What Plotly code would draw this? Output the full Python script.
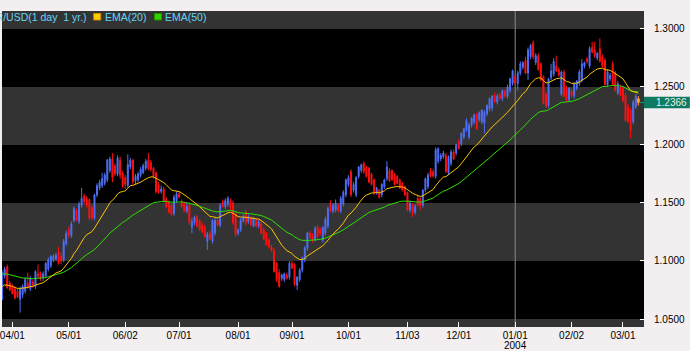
import plotly.graph_objects as go
import pandas as pd

# ---------------- data ----------------
# trading days shown: 2003-03-26 .. 2004-03-09 (weekdays, no bar on 2003-12-25)
dates = [d.strftime("%Y-%m-%d") for d in pd.bdate_range("2003-03-26", "2004-03-09")
         if d.strftime("%Y-%m-%d") != "2003-12-25"]

opens = [
    1.067, 1.087, 1.095, 1.081, 1.078, 1.076, 1.074, 1.067, 1.071, 1.074,
    1.081, 1.076, 1.082, 1.078, 1.089, 1.089, 1.086, 1.087, 1.093, 1.096,
    1.101, 1.102, 1.108, 1.104, 1.101, 1.115, 1.127, 1.122, 1.135, 1.143,
    1.134, 1.148, 1.156, 1.154, 1.153, 1.146, 1.137, 1.157, 1.163, 1.165,
    1.167, 1.170, 1.178, 1.188, 1.182, 1.175, 1.187, 1.176, 1.172, 1.165,
    1.181, 1.187, 1.169, 1.170, 1.174, 1.176, 1.180, 1.187, 1.185, 1.180,
    1.176, 1.166, 1.160, 1.162, 1.153, 1.151, 1.148, 1.141, 1.152, 1.158,
    1.151, 1.149, 1.143, 1.148, 1.129, 1.133, 1.138, 1.135, 1.131, 1.129,
    1.117, 1.124, 1.117, 1.124, 1.135, 1.131, 1.151, 1.147, 1.149, 1.152,
    1.150, 1.141, 1.124, 1.127, 1.135, 1.142, 1.134, 1.137, 1.130, 1.135,
    1.130, 1.132, 1.127, 1.124, 1.118, 1.112, 1.109, 1.098, 1.090, 1.085,
    1.084, 1.088, 1.086, 1.098, 1.097, 1.079, 1.084, 1.092, 1.101, 1.111,
    1.124, 1.122, 1.119, 1.129, 1.127, 1.118, 1.124, 1.130, 1.150, 1.143,
    1.144, 1.148, 1.143, 1.149, 1.157, 1.166, 1.177, 1.161, 1.157, 1.173,
    1.178, 1.184, 1.181, 1.180, 1.175, 1.170, 1.159, 1.161, 1.157, 1.164,
    1.171, 1.178, 1.178, 1.175, 1.173, 1.170, 1.167, 1.164, 1.159, 1.144,
    1.149, 1.142, 1.154, 1.153, 1.148, 1.161, 1.164, 1.178, 1.177, 1.173,
    1.186, 1.188, 1.190, 1.191, 1.176, 1.184, 1.194, 1.193, 1.203, 1.201,
    1.207, 1.213, 1.207, 1.217, 1.220, 1.226, 1.222, 1.220, 1.219, 1.227,
    1.231, 1.232, 1.243, 1.237, 1.243, 1.240, 1.246, 1.242, 1.247, 1.253,
    1.259, 1.253, 1.262, 1.267, 1.273, 1.262, 1.276, 1.288, 1.271, 1.277,
    1.270, 1.259, 1.244, 1.234, 1.258, 1.261, 1.268, 1.265, 1.244, 1.263,
    1.249, 1.239, 1.246, 1.242, 1.249, 1.253, 1.256, 1.268, 1.274, 1.268,
    1.284, 1.282, 1.275, 1.283, 1.276, 1.273, 1.252, 1.257, 1.270, 1.262,
    1.245, 1.250, 1.249, 1.243, 1.233, 1.230, 1.220, 1.233, 1.240,
]
highs = [
    1.092, 1.095, 1.097, 1.083, 1.080, 1.078, 1.076, 1.078, 1.080, 1.086,
    1.090, 1.087, 1.084, 1.092, 1.097, 1.091, 1.091, 1.099, 1.103, 1.105,
    1.106, 1.107, 1.112, 1.108, 1.119, 1.126, 1.130, 1.134, 1.147, 1.145,
    1.151, 1.163, 1.158, 1.156, 1.154, 1.148, 1.158, 1.167, 1.170, 1.176,
    1.176, 1.188, 1.190, 1.193, 1.184, 1.191, 1.190, 1.178, 1.174, 1.192,
    1.189, 1.188, 1.175, 1.177, 1.181, 1.184, 1.188, 1.193, 1.187, 1.181,
    1.177, 1.168, 1.165, 1.164, 1.155, 1.152, 1.150, 1.157, 1.160, 1.160,
    1.153, 1.151, 1.150, 1.150, 1.137, 1.139, 1.140, 1.136, 1.133, 1.131,
    1.125, 1.126, 1.136, 1.137, 1.137, 1.150, 1.153, 1.154, 1.156, 1.154,
    1.152, 1.142, 1.128, 1.137, 1.140, 1.144, 1.140, 1.139, 1.138, 1.137,
    1.135, 1.134, 1.129, 1.125, 1.120, 1.114, 1.111, 1.099, 1.093, 1.089,
    1.090, 1.090, 1.100, 1.100, 1.098, 1.087, 1.094, 1.104, 1.113, 1.125,
    1.126, 1.124, 1.130, 1.131, 1.129, 1.130, 1.138, 1.147, 1.152, 1.150,
    1.153, 1.150, 1.156, 1.161, 1.171, 1.174, 1.179, 1.168, 1.173, 1.182,
    1.184, 1.186, 1.182, 1.181, 1.176, 1.171, 1.164, 1.162, 1.167, 1.171,
    1.186, 1.180, 1.179, 1.176, 1.174, 1.171, 1.168, 1.165, 1.160, 1.152,
    1.150, 1.149, 1.156, 1.155, 1.162, 1.172, 1.176, 1.180, 1.179, 1.198,
    1.198, 1.193, 1.195, 1.193, 1.191, 1.196, 1.196, 1.201, 1.205, 1.211,
    1.215, 1.223, 1.219, 1.224, 1.227, 1.228, 1.229, 1.231, 1.230, 1.235,
    1.241, 1.243, 1.245, 1.244, 1.245, 1.248, 1.248, 1.252, 1.258, 1.265,
    1.261, 1.264, 1.272, 1.272, 1.276, 1.284, 1.287, 1.290, 1.279, 1.279,
    1.271, 1.260, 1.245, 1.258, 1.270, 1.275, 1.277, 1.267, 1.264, 1.265,
    1.251, 1.250, 1.248, 1.254, 1.256, 1.265, 1.274, 1.272, 1.276, 1.285,
    1.289, 1.289, 1.280, 1.292, 1.278, 1.275, 1.265, 1.262, 1.272, 1.264,
    1.255, 1.252, 1.251, 1.245, 1.235, 1.232, 1.239, 1.244, 1.242,
]
lows = [
    1.066, 1.085, 1.076, 1.074, 1.071, 1.067, 1.068, 1.0555, 1.068, 1.072,
    1.076, 1.074, 1.077, 1.076, 1.085, 1.083, 1.083, 1.085, 1.091, 1.094,
    1.099, 1.100, 1.097, 1.097, 1.099, 1.113, 1.120, 1.120, 1.133, 1.134,
    1.132, 1.146, 1.149, 1.146, 1.135, 1.135, 1.135, 1.155, 1.161, 1.163,
    1.165, 1.168, 1.176, 1.168, 1.173, 1.173, 1.171, 1.163, 1.162, 1.163,
    1.179, 1.166, 1.166, 1.168, 1.172, 1.175, 1.178, 1.178, 1.177, 1.171,
    1.158, 1.158, 1.158, 1.150, 1.146, 1.141, 1.139, 1.139, 1.150, 1.154,
    1.146, 1.142, 1.141, 1.131, 1.124, 1.131, 1.129, 1.126, 1.124, 1.120,
    1.1095, 1.118, 1.115, 1.122, 1.130, 1.129, 1.146, 1.145, 1.147, 1.144,
    1.131, 1.121, 1.122, 1.125, 1.133, 1.131, 1.132, 1.130, 1.129, 1.129,
    1.128, 1.123, 1.118, 1.113, 1.111, 1.108, 1.090, 1.082, 1.077, 1.083,
    1.082, 1.084, 1.084, 1.093, 1.078, 1.075, 1.082, 1.090, 1.099, 1.109,
    1.119, 1.116, 1.117, 1.119, 1.122, 1.116, 1.122, 1.128, 1.142, 1.141,
    1.142, 1.142, 1.141, 1.147, 1.155, 1.164, 1.155, 1.159, 1.155, 1.171,
    1.176, 1.175, 1.172, 1.167, 1.165, 1.157, 1.157, 1.154, 1.155, 1.162,
    1.169, 1.168, 1.169, 1.165, 1.166, 1.162, 1.160, 1.156, 1.143, 1.142,
    1.138, 1.140, 1.147, 1.144, 1.146, 1.159, 1.162, 1.172, 1.172, 1.171,
    1.184, 1.186, 1.188, 1.176, 1.174, 1.182, 1.187, 1.191, 1.196, 1.199,
    1.205, 1.211, 1.205, 1.215, 1.218, 1.213, 1.220, 1.218, 1.210, 1.225,
    1.229, 1.229, 1.236, 1.235, 1.239, 1.238, 1.241, 1.240, 1.245, 1.251,
    1.252, 1.247, 1.260, 1.265, 1.261, 1.256, 1.274, 1.274, 1.269, 1.264,
    1.255, 1.235, 1.232, 1.232, 1.256, 1.259, 1.263, 1.259, 1.242, 1.241,
    1.238, 1.237, 1.241, 1.240, 1.247, 1.251, 1.254, 1.266, 1.270, 1.266,
    1.279, 1.275, 1.273, 1.271, 1.267, 1.251, 1.250, 1.255, 1.251, 1.246,
    1.243, 1.242, 1.237, 1.220, 1.219, 1.206, 1.218, 1.231, 1.234,
]
closes = [
    1.090, 1.093, 1.077, 1.075, 1.072, 1.068, 1.069, 1.076, 1.078, 1.084,
    1.077, 1.085, 1.079, 1.091, 1.087, 1.085, 1.089, 1.098, 1.101, 1.104,
    1.104, 1.105, 1.098, 1.100, 1.117, 1.124, 1.122, 1.132, 1.145, 1.135,
    1.149, 1.154, 1.151, 1.148, 1.137, 1.137, 1.157, 1.165, 1.168, 1.171,
    1.174, 1.187, 1.188, 1.172, 1.175, 1.189, 1.174, 1.165, 1.166, 1.183,
    1.187, 1.168, 1.173, 1.175, 1.179, 1.182, 1.186, 1.180, 1.179, 1.173,
    1.160, 1.159, 1.162, 1.151, 1.147, 1.142, 1.140, 1.155, 1.158, 1.155,
    1.147, 1.143, 1.147, 1.133, 1.134, 1.138, 1.130, 1.127, 1.125, 1.121,
    1.123, 1.119, 1.135, 1.135, 1.131, 1.148, 1.147, 1.152, 1.154, 1.146,
    1.133, 1.123, 1.127, 1.135, 1.138, 1.133, 1.138, 1.131, 1.137, 1.130,
    1.134, 1.124, 1.119, 1.114, 1.112, 1.109, 1.091, 1.084, 1.078, 1.088,
    1.089, 1.085, 1.098, 1.094, 1.080, 1.086, 1.092, 1.102, 1.111, 1.124,
    1.120, 1.118, 1.128, 1.121, 1.124, 1.129, 1.136, 1.145, 1.143, 1.148,
    1.150, 1.143, 1.154, 1.159, 1.170, 1.172, 1.157, 1.166, 1.172, 1.181,
    1.183, 1.177, 1.173, 1.168, 1.166, 1.159, 1.163, 1.155, 1.166, 1.170,
    1.181, 1.169, 1.170, 1.166, 1.167, 1.163, 1.161, 1.157, 1.144, 1.150,
    1.141, 1.147, 1.148, 1.148, 1.161, 1.171, 1.174, 1.173, 1.173, 1.196,
    1.197, 1.191, 1.193, 1.177, 1.190, 1.194, 1.188, 1.200, 1.197, 1.210,
    1.214, 1.221, 1.217, 1.223, 1.226, 1.214, 1.228, 1.230, 1.228, 1.234,
    1.240, 1.242, 1.237, 1.242, 1.240, 1.247, 1.242, 1.250, 1.257, 1.264,
    1.253, 1.262, 1.270, 1.271, 1.262, 1.282, 1.286, 1.276, 1.277, 1.265,
    1.256, 1.236, 1.233, 1.257, 1.264, 1.272, 1.264, 1.260, 1.263, 1.242,
    1.239, 1.249, 1.243, 1.253, 1.255, 1.263, 1.270, 1.271, 1.272, 1.283,
    1.280, 1.277, 1.279, 1.272, 1.268, 1.252, 1.263, 1.260, 1.252, 1.247,
    1.253, 1.243, 1.238, 1.221, 1.220, 1.213, 1.237, 1.242, 1.2366,
]

# EMA values at the first visible bar
ema20_start = 1.078
ema50_start = 1.089

tick_dates = ["2003-04-01", "2003-05-01", "2003-06-02", "2003-07-01", "2003-08-01",
              "2003-09-01", "2003-10-01", "2003-11-03", "2003-12-01", "2004-01-01",
              "2004-02-02", "2004-03-01"]
tick_labels = ["04/01", "05/01", "06/02", "07/01", "08/01", "09/01", "10/01",
               "11/03", "12/01", "01/01", "02/02", "03/01"]
y_ticks = [1.05, 1.10, 1.15, 1.20, 1.25, 1.30]
y_labels = ["1.0500", "1.1000", "1.1500", "1.2000", "1.2500", "1.3000"]
band_edges = [(1.30, 1.3155), (1.20, 1.25), (1.10, 1.15), (1.0431, 1.05)]
last_price = 1.2366
title_text = "EUR/USD(1 day&nbsp; 1 yr.)"

assert len(dates) == len(opens) == len(highs) == len(lows) == len(closes)

# ---------------- indicators ----------------
def ema(values, n, start):
    a = 2.0 / (n + 1)
    out = [start]
    for v in values[1:]:
        out.append(out[-1] + a * (v - out[-1]))
    return out

ema20 = ema(closes, 20, ema20_start)
ema50 = ema(closes, 50, ema50_start)

# ---------------- styling ----------------
UP = "#4f6ff4"
DOWN = "#ff1010"
LAST = "#ffa020"
TXT = "#66d4f8"
PW, PH = 644, 316   # plot area size in px
TOP = 11

def px_x(p):
    return p / PW

def px_y(p):
    return (TOP + PH - p) / PH

fig = go.Figure()
fig.add_trace(go.Candlestick(
    x=dates, open=opens, high=highs, low=lows, close=closes,
    increasing=dict(line=dict(color=UP, width=1), fillcolor=UP),
    decreasing=dict(line=dict(color=DOWN, width=1), fillcolor=DOWN),
    whiskerwidth=0, hoverinfo="skip", showlegend=False))
fig.add_trace(go.Scatter(x=dates, y=ema50, mode="lines",
                         line=dict(color="#2ee000", width=1), hoverinfo="skip"))
fig.add_trace(go.Scatter(x=dates, y=ema20, mode="lines",
                         line=dict(color="#ffc400", width=1), hoverinfo="skip"))
fig.add_trace(go.Scatter(x=[dates[-1], dates[-1]], y=[lows[-1], highs[-1]], mode="lines",
                         line=dict(color=LAST, width=1), hoverinfo="skip"))
fig.add_trace(go.Scatter(x=[dates[-1], dates[-1]], y=[opens[-1], closes[-1]], mode="lines",
                         line=dict(color=LAST, width=3), hoverinfo="skip"))

shapes = []
for y0, y1 in band_edges:
    shapes.append(dict(type="rect", xref="paper", yref="y", x0=0, x1=1, y0=y0, y1=y1,
                       fillcolor="#333333", line=dict(width=0), layer="below"))
shapes.append(dict(type="line", xref="x", yref="paper", x0="2004-01-01", x1="2004-01-01",
                   y0=0, y1=1, line=dict(color="#8c8c8c", width=1), layer="below"))
# current price box
shapes.append(dict(type="rect", xref="paper", yref="y", x0=1, x1=690 / PW,
                   y0=last_price - 0.0049, y1=last_price + 0.0049,
                   fillcolor="#0e7a62", line=dict(width=0)))
shapes.append(dict(type="line", xref="paper", yref="y", x0=1 - 4 / PW, x1=1,
                   y0=last_price, y1=last_price, line=dict(color="#0e9a7a", width=1)))
# legend swatches
shapes.append(dict(type="rect", xref="paper", yref="paper", x0=px_x(92), x1=px_x(99),
                   y0=px_y(20), y1=px_y(13.5), fillcolor="#ffcc00",
                   line=dict(color="#c89000", width=1)))
shapes.append(dict(type="rect", xref="paper", yref="paper", x0=px_x(153), x1=px_x(160),
                   y0=px_y(20), y1=px_y(13.5), fillcolor="#33d000",
                   line=dict(color="#1e9600", width=1)))

ann_font = dict(family="Liberation Sans, Arial, sans-serif", size=10.5, color=TXT)
annotations = [
    dict(text=title_text, xref="paper", yref="paper", x=px_x(-23), y=px_y(17),
         xanchor="left", yanchor="middle", showarrow=False, font=ann_font),
    dict(text="EMA(20)", xref="paper", yref="paper", x=px_x(101), y=px_y(17),
         xanchor="left", yanchor="middle", showarrow=False, font=ann_font),
    dict(text="EMA(50)", xref="paper", yref="paper", x=px_x(162), y=px_y(17),
         xanchor="left", yanchor="middle", showarrow=False, font=ann_font),
    dict(text=f"{last_price:.4f}", xref="paper", yref="y", x=1 + 10 / PW, y=last_price,
         xanchor="left", yanchor="middle", showarrow=False,
         font=dict(family="Liberation Sans, Arial, sans-serif", size=10, color="#e4f4ee")),
    dict(text="2004", xref="x", yref="paper", x="2004-01-01", y=px_y(345.5),
         xanchor="center", yanchor="middle", showarrow=False, borderpad=0,
         font=dict(family="Liberation Sans, Arial, sans-serif", size=10, color="#000000")),
]

fig.update_layout(
    width=690, height=351,
    margin=dict(l=0, r=46, t=TOP, b=24),
    paper_bgcolor="#f3eff1", plot_bgcolor="#000000",
    showlegend=False, boxgap=0.45,
    font=dict(family="Liberation Sans, Arial, sans-serif", size=10, color="#000000"),
    shapes=shapes, annotations=annotations,
    xaxis=dict(type="date", range=["2003-03-25 23:00", "2004-03-11 05:00"],
               rangebreaks=[dict(bounds=["sat", "mon"]), dict(values=["2003-12-25"])],
               tickmode="array", tickvals=tick_dates, ticktext=tick_labels,
               ticks="inside", ticklen=5, tickcolor="#ffffff", tickwidth=1,
               showgrid=False, zeroline=False, showline=False,
               ticklabeloverflow="allow", ticklabelstandoff=1,
               rangeslider=dict(visible=False), fixedrange=True),
    yaxis=dict(side="right", range=[1.0431, 1.3155],
               tickmode="array", tickvals=y_ticks, ticktext=y_labels,
               ticks="inside", ticklen=4, tickcolor="#ffffff", tickwidth=1,
               showgrid=False, zeroline=False, showline=False,
               ticklabelstandoff=9, fixedrange=True),
)

fig.write_html("out.html")
